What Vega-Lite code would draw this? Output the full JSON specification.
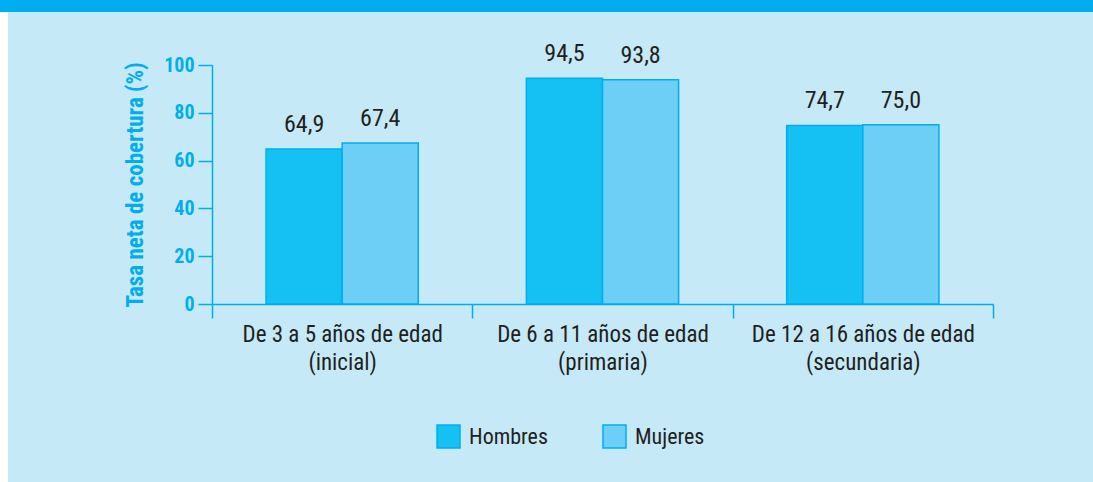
{
  "$schema": "https://vega.github.io/schema/vega-lite/v6.json",
  "background": "#c6e9f8",
  "padding": 0,
  "spacing": 0,
  "config": {
    "locale": {"number": {"decimal": ",", "thousands": ".", "grouping": [3], "currency": ["", " €"]}},
    "view": {"stroke": null},
    "font": "Roboto Condensed, DejaVu Sans Condensed, Roboto"
  },
  "vconcat": [
    {
      "width": 1093, "height": 12,
      "view": {"fill": "#00aeef", "stroke": null},
      "data": {"values": [{}]},
      "mark": {"type": "text", "text": ""},
      "encoding": {}
    },
    {
      "spacing": 116,
      "hconcat": [
        {
          "width": 8, "height": 470,
          "view": {"fill": "#ffffff", "stroke": null},
          "data": {"values": [{}]},
          "mark": {"type": "text", "text": ""},
          "encoding": {}
        },
        {
          "spacing": 0,
          "vconcat": [
            {
              "width": 10, "height": 30,
              "data": {"values": [{}]},
              "mark": {"type": "text", "text": ""},
              "encoding": {}
            },
            {
              "width": 781,
              "height": 239,
              "data": {"values": [
                {"grupo": "De 3 a 5 años de edad (inicial)", "sexo": "Hombres", "tasa": 64.9},
                {"grupo": "De 3 a 5 años de edad (inicial)", "sexo": "Mujeres", "tasa": 67.4},
                {"grupo": "De 6 a 11 años de edad (primaria)", "sexo": "Hombres", "tasa": 94.5},
                {"grupo": "De 6 a 11 años de edad (primaria)", "sexo": "Mujeres", "tasa": 93.8},
                {"grupo": "De 12 a 16 años de edad (secundaria)", "sexo": "Hombres", "tasa": 74.7},
                {"grupo": "De 12 a 16 años de edad (secundaria)", "sexo": "Mujeres", "tasa": 75.0}
              ]},
              "encoding": {
                "x": {
                  "field": "grupo", "type": "nominal", "sort": null,
                  "scale": {"paddingInner": 0, "paddingOuter": 0},
                  "axis": {
                    "title": null, "labelAngle": 0, "tickBand": "extent",
                    "tickSize": 14, "tickWidth": 1.5, "tickColor": "#00aeef",
                    "domainColor": "#00aeef", "domainWidth": 1.5,
                    "labelFontSize": 23, "labelColor": "#231f20", "labelPadding": 5,
                    "labelLineHeight": 28, "labelBaseline": "top", "labelLimit": 0,
                    "labelExpr": "[slice(datum.label, 0, indexof(datum.label, ' (')), slice(datum.label, indexof(datum.label, ' (') + 1)]"
                  }
                },
                "xOffset": {
                  "field": "sexo", "type": "nominal", "sort": ["Hombres", "Mujeres"],
                  "scale": {"paddingInner": 0, "paddingOuter": 0.71}
                },
                "y": {
                  "field": "tasa", "type": "quantitative",
                  "scale": {"domain": [0, 100], "nice": false},
                  "axis": {
                    "title": "Tasa neta de cobertura (%)",
                    "values": [0, 20, 40, 60, 80, 100],
                    "grid": false,
                    "titleColor": "#00aeef", "titleFontSize": 23, "titleFontWeight": "bold",
                    "titlePadding": 16,
                    "labelColor": "#00aeef", "labelFontWeight": "bold", "labelFontSize": 20,
                    "labelPadding": 4,
                    "tickSize": 14, "tickWidth": 1.5, "tickColor": "#00aeef",
                    "domainColor": "#00aeef", "domainWidth": 1.5
                  }
                },
                "color": {
                  "field": "sexo", "type": "nominal", "sort": ["Hombres", "Mujeres"],
                  "scale": {"range": ["#15c1f2", "#6dcff6"]},
                  "legend": {
                    "title": null, "orient": "none", "legendX": 436, "legendY": 424,
                    "direction": "horizontal",
                    "symbolType": "square", "symbolSize": 529,
                    "symbolStrokeColor": "#00aeef", "symbolStrokeWidth": 1.5,
                    "symbolOpacity": 1,
                    "labelFontSize": 22, "labelColor": "#231f20", "labelOffset": 8,
                    "columnPadding": 52
                  }
                }
              },
              "layer": [
                {
                  "mark": {"type": "bar", "stroke": "#00aeef", "strokeWidth": 1.5}
                },
                {
                  "mark": {"type": "text", "baseline": "alphabetic", "dy": -17, "fontSize": 24, "color": "#231f20"},
                  "encoding": {
                    "text": {"field": "tasa", "type": "quantitative", "format": ".1f"},
                    "color": {"value": "#231f20"}
                  }
                }
              ]
            }
          ]
        }
      ]
    }
  ]
}
